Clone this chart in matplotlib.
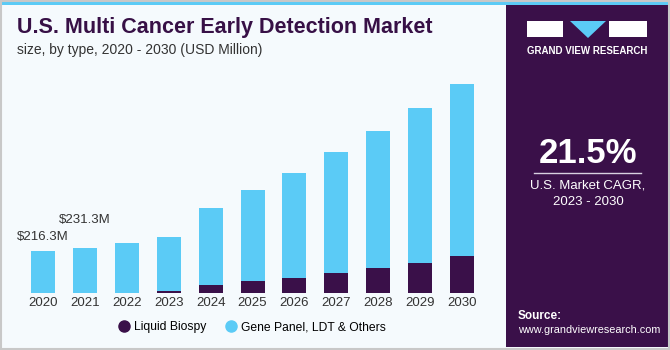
import numpy as np
import matplotlib.pyplot as plt
from matplotlib.lines import Line2D
from matplotlib.patches import Rectangle, Polygon

plt.rcParams['font.family'] = ['Liberation Sans', 'DejaVu Sans']

# dados (USD milhoes)
anos = ['2020', '2021', '2022', '2023', '2024', '2025', '2026', '2027', '2028', '2029', '2030']
liquid_biopsy = [0, 0, 0, 10, 43, 63, 77, 101, 127, 157, 190]
gene_panel = [216.3, 231.3, 255, 278, 395, 467, 542, 626, 709, 798, 887]
rotulos = {0: '$216.3M', 1: '$231.3M'}

roxo = '#3a1049'
azul = '#5bcbf6'
fundo = '#f5fafd'

W, H = 670, 350
fig = plt.figure(figsize=(W / 100, H / 100), dpi=100)
fig.patch.set_facecolor(fundo)

def fx(px):
    return px / W

def fy(py):
    return 1 - py / H

# faixa azul no topo e painel lateral
fig.patches.append(Rectangle((0, fy(5)), 1, 5 / H, transform=fig.transFigure,
                             facecolor=azul, edgecolor='none', zorder=0))
fig.patches.append(Rectangle((fx(506), fy(347)), fx(162), (347 - 5) / H,
                             transform=fig.transFigure, facecolor=roxo,
                             edgecolor='none', zorder=0))

# gradiente no rodape do painel
axg = fig.add_axes([fx(506), fy(347), fx(162), (347 - 280) / H])
grad = np.linspace(0, 1, 100).reshape(-1, 1)
c0 = np.array([0x3a, 0x10, 0x49]) / 255
c1 = np.array([0x52, 0xb0, 0xe4]) / 255
img = (c0 + (c1 - c0) * grad[..., None] ** 1.4).reshape(100, 1, 3)
axg.imshow(img, aspect='auto', origin='upper', extent=(0, 1, 0, 1))
# grade de linhas finas imitando a textura
for k in np.linspace(0.05, 0.95, 14):
    axg.plot([k, k + (k - 0.5) * 0.4], [0.8, 0], color='white', alpha=0.12, lw=0.6)
for k in np.linspace(0.05, 0.78, 9):
    axg.plot([0, 1], [k, k + 0.05 * np.sin(k * 9)], color='white', alpha=0.12, lw=0.6)
axg.set_xlim(0, 1)
axg.set_ylim(0, 1)
axg.axis('off')

# borda cinza
fig.patches.append(Rectangle((0.001, 0.003), 0.997, 0.995, transform=fig.transFigure,
                             facecolor='none', edgecolor='#c8c8c8', lw=1.5, zorder=5))

# grafico principal
x = np.arange(len(anos))
larg = 24 / 41.9
ax = fig.add_axes([fx(22.05), 57 / H, 461 / W, 233 / H])
ax.set_facecolor('none')
ax.bar(x, liquid_biopsy, width=larg, color=roxo, label='Liquid Biospy')
ax.bar(x, gene_panel, width=larg, bottom=liquid_biopsy, color=azul,
       label='Gene Panel, LDT & Others')
ax.set_xlim(-0.5, len(anos) - 0.5)
ax.set_ylim(0, 1200)
for s in ax.spines.values():
    s.set_visible(False)
ax.set_yticks([])
ax.set_xticks(x)
ax.set_xticklabels(anos, fontsize=9.5, color='#333333')
ax.tick_params(axis='x', length=0, pad=3)

desloc = {0: 14, 1: 28}
totais = np.array(liquid_biopsy) + np.array(gene_panel)
for i, txt in rotulos.items():
    ax.annotate(txt, (x[i], totais[i]), xytext=(0, desloc[i]), textcoords='offset pixels',
                ha='center', va='center', fontsize=9.5, color='#333333')

handles = [Line2D([], [], marker='o', ls='none', color=roxo, markersize=8),
           Line2D([], [], marker='o', ls='none', color=azul, markersize=8)]
fig.legend(handles, ['Liquid Biospy', 'Gene Panel, LDT & Others'], ncol=2,
           loc='center', bbox_to_anchor=(fx(252), fy(327)), frameon=False,
           fontsize=8.7, handletextpad=0.3, columnspacing=1.6, handlelength=1)

# titulo
fig.text(fx(17), fy(28), 'U.S. Multi Cancer Early Detection Market', fontsize=15.5,
         fontweight='bold', color='#371046', va='center', ha='left')
fig.text(fx(17), fy(50), 'size, by type, 2020 - 2030 (USD Million)', fontsize=10,
         color='#333333', va='center', ha='left')

# logo
fig.patches.append(Rectangle((fx(527), fy(37)), fx(36), 16 / H, transform=fig.transFigure,
                             facecolor='white', edgecolor='none'))
fig.patches.append(Rectangle((fx(609), fy(37)), fx(38), 16 / H, transform=fig.transFigure,
                             facecolor='white', edgecolor='none'))
fig.patches.append(Polygon([(fx(570), fy(21)), (fx(606), fy(21)), (fx(588), fy(38))],
                           closed=True, transform=fig.transFigure,
                           facecolor=azul, edgecolor='none'))
fig.text(fx(587), fy(51.5), 'GRAND VIEW RESEARCH', fontsize=7, fontweight='bold',
         color='white', ha='center', va='center')

# CAGR
fig.text(fx(588), fy(154), '21.5%', fontsize=25, fontweight='bold', color='white',
         ha='center', va='center')
fig.add_artist(Line2D([fx(534), fx(641)], [fy(173), fy(173)], color='#d8d0e0', lw=1))
fig.text(fx(588), fy(185), 'U.S. Market CAGR,', fontsize=9.5, color='white',
         ha='center', va='center')
fig.text(fx(588), fy(202), '2023 - 2030', fontsize=9.5, color='white',
         ha='center', va='center')

# fonte
fig.text(fx(518), fy(316), 'Source:', fontsize=8.5, fontweight='bold', color='white',
         ha='left', va='center')
fig.text(fx(518), fy(330), 'www.grandviewresearch.com', fontsize=7.8, color='white',
         ha='left', va='center')

fig.savefig('out.png', dpi=100, facecolor=fig.get_facecolor())
